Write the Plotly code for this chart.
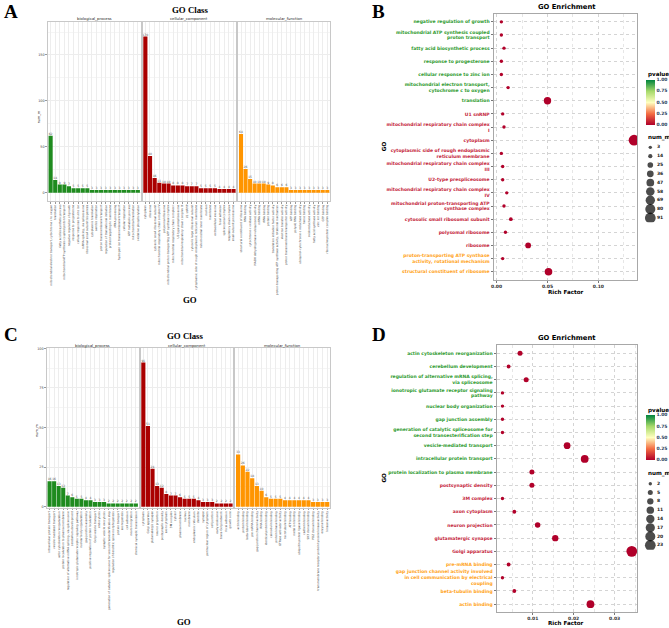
import plotly.graph_objects as go

W, H = 669, 628

# ---------------- Panel A (GO Class) ----------------
a_bp_terms = ["mitochondrial electron transport, cytochrome c to oxygen", "translation",
              "fatty acid biosynthetic process", "mitochondrial ATP synthesis coupled proton transport",
              "negative regulation of growth", "response to progesterone", "cellular response to zinc ion",
              "mRNA splicing, via spliceosome", "ribosomal small subunit biogenesis", "cytoplasmic translation",
              "aerobic respiration", "proton transmembrane transport", "regulation of translational initiation",
              "protein targeting to membrane", "rRNA processing", "hydrogen ion transmembrane transport",
              "cellular respiration", "ATP metabolic process", "mitochondrial translation",
              "oxidative phosphorylation"]
a_bp_counts = [62, 14, 9, 9, 7, 5, 5, 5, 5, 3, 3, 3, 3, 3, 3, 3, 3, 3, 3, 3]

a_cc_terms = ["cytoplasm", "ribosome", "cytosolic small ribosomal subunit",
              "mitochondrial respiratory chain complex IV", "polysomal ribosome",
              "mitochondrial proton-transporting ATP synthase complex",
              "mitochondrial respiratory chain complex I", "U2-type prespliceosome",
              "mitochondrial respiratory chain complex III", "U1 snRNP", "cytosolic large ribosomal subunit",
              "cytoplasmic side of rough endoplasmic reticulum membrane",
              "mitochondrial inner membrane", "nucleus", "membrane", "extracellular exosome", "focal adhesion",
              "spliceosomal complex", "respiratory chain complex", "small-subunit processome"]
a_cc_counts = [170, 40, 16, 11, 10, 10, 8, 8, 8, 7, 7, 7, 5, 5, 5, 5, 4, 4, 4, 4]

a_mf_terms = ["structural constituent of ribosome", "RNA binding", "cytochrome-c oxidase activity",
              "NADH dehydrogenase (ubiquinone) activity", "mRNA binding", "rRNA binding", "protein binding",
              "translation initiation factor activity",
              "proton-transporting ATP synthase activity, rotational mechanism", "electron transfer activity",
              "proton transmembrane transporter activity", "ATP binding", "poly(A) RNA binding",
              "ubiquinol-cytochrome-c reductase activity", "heme binding", "oxidoreductase activity",
              "fatty acid synthase activity", "zinc ion binding", "GTP binding", "ribonucleoprotein complex binding"]
a_mf_counts = [64, 26, 15, 10, 10, 10, 9, 8, 6, 6, 6, 3, 3, 3, 3, 3, 3, 3, 3, 3]

# ---------------- Panel C (GO Class) ----------------
c_bp_terms = ["intracellular protein transport", "vesicle-mediated transport", "actin cytoskeleton reorganization",
              "protein localization to plasma membrane", "regulation of alternative mRNA splicing, via spliceosome",
              "cerebellum development", "ionotropic glutamate receptor signaling pathway",
              "nuclear body organization", "gap junction assembly",
              "positive regulation of protein localization", "Golgi vesicle transport", "endocytosis",
              "synaptic vesicle exocytosis",
              "generation of catalytic spliceosome for second transesterification step",
              "regulation of dendritic spine morphogenesis", "protein transport",
              "axonogenesis", "cell adhesion", "neuron migration", "chemical synaptic transmission"]
c_bp_counts = [16, 16, 13, 12, 7, 6, 5, 5, 4, 4, 3, 3, 3, 2, 2, 2, 2, 2, 2, 2]

c_cc_terms = ["cytoplasm", "Golgi apparatus", "glutamatergic synapse", "neuron projection",
              "postsynaptic density", "axon cytoplasm", "3M complex", "cytosol", "plasma membrane", "nucleus",
              "membrane", "endoplasmic reticulum", "dendrite", "synapse", "perinuclear region of cytoplasm",
              "cell junction", "early endosome", "trans-Golgi network", "focal adhesion", "growth cone"]
c_cc_counts = [91, 51, 24, 13, 12, 8, 7, 7, 6, 5, 5, 5, 4, 3, 3, 3, 2, 2, 2, 2]

c_mf_terms = ["actin binding", "protein binding", "beta-tubulin binding", "pre-mRNA binding",
              "gap junction channel activity", "RNA binding", "identical protein binding", "calmodulin binding",
              "protein kinase binding", "GTPase activator activity", "microtubule binding", "ATP binding",
              "metal ion binding", "ubiquitin protein ligase binding", "cadherin binding", "SH3 domain binding",
              "PDZ domain binding", "transmembrane receptor protein tyrosine kinase activity",
              "enzyme binding", "kinase activity"]
c_mf_counts = [33, 26, 22, 18, 13, 10, 6, 5, 5, 5, 4, 4, 4, 4, 4, 4, 3, 3, 3, 3]

# ---------------- Panel B (GO Enrichment) ----------------
b_terms = ["negative regulation of growth", "mitochondrial ATP synthesis coupled\nproton transport",
           "fatty acid biosynthetic process", "response to progesterone", "cellular response to zinc ion",
           "mitochondrial electron transport,\ncytochrome c to oxygen", "translation", "U1 snRNP",
           "mitochondrial respiratory chain complex\nI", "cytoplasm",
           "cytoplasmic side of rough endoplasmic\nreticulum membrane",
           "mitochondrial respiratory chain complex\nIII", "U2-type prespliceosome",
           "mitochondrial respiratory chain complex\nIV", "mitochondrial proton-transporting ATP\nsynthase complex",
           "cytosolic small ribosomal subunit", "polysomal ribosome", "ribosome",
           "proton-transporting ATP synthase\nactivity, rotational mechanism", "structural constituent of ribosome"]
b_class = ["BP"] * 7 + ["CC"] * 11 + ["MF"] * 2
b_rich = [0.0047, 0.0047, 0.0073, 0.0047, 0.0047, 0.0113, 0.050, 0.006, 0.0073, 0.135,
          0.0047, 0.006, 0.006, 0.010, 0.0073, 0.014, 0.0087, 0.031, 0.006, 0.051]
b_num = [3, 3, 6, 3, 3, 9, 43, 4, 6, 91, 3, 4, 4, 7, 5, 11, 6, 26, 4, 45]
b_p = [0.004, 0.004, 0.002, 0.004, 0.004, 0.001, 0.0, 0.003, 0.002, 0.0, 0.004, 0.003, 0.003, 0.001, 0.002,
       0.0, 0.001, 0.0, 0.003, 0.0]
b_size_legend = [3, 14, 25, 36, 47, 58, 69, 80, 91]

# ---------------- Panel D (GO Enrichment) ----------------
d_terms = ["actin cytoskeleton reorganization", "cerebellum development",
           "regulation of alternative mRNA splicing,\nvia spliceosome",
           "ionotropic glutamate receptor signaling\npathway", "nuclear body organization", "gap junction assembly",
           "generation of catalytic spliceosome for\nsecond transesterification step", "vesicle-mediated transport",
           "intracellular protein transport", "protein localization to plasma membrane", "postsynaptic density",
           "3M complex", "axon cytoplasm", "neuron projection", "glutamatergic synapse", "Golgi apparatus",
           "pre-mRNA binding",
           "gap junction channel activity involved\nin cell communication by electrical\ncoupling",
           "beta-tubulin binding", "actin binding"]
d_class = ["BP"] * 10 + ["CC"] * 6 + ["MF"] * 4
d_rich = [0.0069, 0.0041, 0.0084, 0.0026, 0.0026, 0.0026, 0.0026, 0.0184, 0.0227, 0.0098,
          0.0098, 0.0026, 0.0055, 0.0112, 0.0155, 0.0342, 0.0041, 0.0026, 0.0055, 0.0241]
d_num = [5, 3, 5, 2, 2, 2, 2, 9, 12, 5, 5, 2, 3, 6, 8, 23, 3, 2, 3, 12]
d_p = [0.002, 0.003, 0.002, 0.004, 0.004, 0.004, 0.004, 0.0, 0.0, 0.002, 0.002, 0.004, 0.003, 0.001, 0.0,
       0.0, 0.003, 0.004, 0.003, 0.0]
d_size_legend = [2, 5, 8, 11, 14, 17, 20, 23]

pv_ticks = [0, 0.25, 0.5, 0.75, 1.0]
pv_ticktext = ["0.00", "0.25", "0.50", "0.75", "1.00"]

# ---------------- styles ----------------
BAR_COL = {"BP": "#1F8B1F", "CC": "#AA0000", "MF": "#FF9500"}
LAB_COL = {"BP": "#2E9A2E", "CC": "#C41E3A", "MF": "#FFA31A"}
PV_SCALE = [[0, "#B0002A"], [0.25, "#F46D43"], [0.5, "#FFFFBF"], [0.75, "#A6D96A"], [1, "#00843D"]]
SANS = "DejaVu Sans"
SERIF = "Liberation Serif"


def xd(a, b):
    return [a / W, b / W]


def yd(top, bot):
    return [1 - bot / H, 1 - top / H]


fig = go.Figure()
layout = dict(width=W, height=H, margin=dict(l=0, r=0, t=0, b=0), autosize=False,
              paper_bgcolor="white", plot_bgcolor="white", showlegend=False,
              bargap=0.1, annotations=[])
ann = layout["annotations"]


def add_text(text, px, py, size, family=SANS, bold=True, angle=0, xanchor="center", color="black"):
    ann.append(dict(text=text, x=px / W, y=1 - py / H, xref="paper", yref="paper",
                    showarrow=False, textangle=angle, xanchor=xanchor, yanchor="middle",
                    font=dict(family=family, size=size, color=color, weight="bold" if bold else "normal")))


# ---------------- GO Class facets ----------------
facets = [
    (1, a_bp_terms, a_bp_counts, "BP", (46, 139), (20, 200), [-9, 186], [0, 50, 100, 150], True),
    (2, a_cc_terms, a_cc_counts, "CC", (141, 235), (20, 200), [-9, 186], [0, 50, 100, 150], False),
    (3, a_mf_terms, a_mf_counts, "MF", (237, 329), (20, 200), [-9, 186], [0, 50, 100, 150], False),
    (5, c_bp_terms, c_bp_counts, "BP", (45, 137), (348, 508), [-0.6, 100], [0, 25, 50, 75, 100], True),
    (6, c_cc_terms, c_cc_counts, "CC", (139, 232), (348, 508), [-0.6, 100], [0, 25, 50, 75, 100], False),
    (7, c_mf_terms, c_mf_counts, "MF", (234, 329), (348, 508), [-0.6, 100], [0, 25, 50, 75, 100], False),
]
for idx, terms, counts, cls, xdom, ydom, yr, ytv, showy in facets:
    fig.add_trace(go.Bar(x=terms, y=counts, marker=dict(color=BAR_COL[cls], line=dict(width=0)),
                         text=[str(c) for c in counts], textposition="outside", cliponaxis=False,
                         constraintext="none", textfont=dict(size=3.0, color="#555555", family=SANS),
                         xaxis=f"x{idx}", yaxis=f"y{idx}"))
    step = ytv[1] - ytv[0]
    minor = [v + step / 2 for v in ytv if v + step / 2 <= yr[1]]
    layout[f"xaxis{idx}"] = dict(domain=xd(*xdom), anchor=f"y{idx}", type="category",
                                 range=[-0.6, len(terms) - 0.4], tickangle=-90,
                                 tickfont=dict(size=2.8, family=SANS, color="#333333"),
                                 showgrid=True, gridcolor="#EDEDED", gridwidth=0.6,
                                 showline=True, mirror=True, linecolor="#C8C8C8", linewidth=1,
                                 ticks="outside", ticklen=1.5, tickcolor="#999999", tickwidth=0.5,
                                 zeroline=False, fixedrange=True)
    layout[f"yaxis{idx}"] = dict(domain=yd(*ydom), anchor=f"x{idx}", range=yr,
                                 tickmode="array", tickvals=ytv, ticktext=[str(v) for v in ytv],
                                 showticklabels=showy, tickfont=dict(size=3.4, family=SANS, color="#444444"),
                                 ticks="outside" if showy else "", ticklen=1.5, tickcolor="#999999",
                                 tickwidth=0.5,
                                 showgrid=True, gridcolor="#EDEDED", gridwidth=0.6,
                                 minor=dict(tickvals=minor, showgrid=True, gridcolor="#F5F5F5", gridwidth=0.5),
                                 showline=True, mirror=True, linecolor="#C8C8C8", linewidth=1,
                                 zeroline=False, fixedrange=True)

# strips and titles for GO Class panels
for (cx, cy, name) in [(92.5, 17, "biological_process"), (188, 17, "cellular_component"),
                       (283, 17, "molecular_function"), (91, 345, "biological_process"),
                       (185.5, 345, "cellular_component"), (281.5, 345, "molecular_function")]:
    add_text(name, cx, cy, 3.8, bold=False, color="#222222")
add_text("GO Class", 189, 8.5, 8.8, family=SERIF)
add_text("GO Class", 184, 336, 8.8, family=SERIF)
add_text("GO", 189, 299, 8.8, family=SERIF)
add_text("GO", 183, 623, 8.8, family=SERIF)
add_text("num_m", 38, 115, 3.4, bold=False, angle=-90)
add_text("num_m", 35, 430, 3.4, bold=False, angle=-90)

# panel letters
add_text("A", 9, 10, 19, family=SERIF)
add_text("B", 378, 10, 19, family=SERIF)
add_text("C", 9, 334, 19, family=SERIF)
add_text("D", 378, 334, 19, family=SERIF)


# ---------------- GO Enrichment panels ----------------
def colored(term, cls):
    lines = term.split("\n")
    return "<br>".join(f"<span style='color:{LAB_COL[cls]}'>{ln}</span>" for ln in lines)


enrich = [
    (4, b_terms, b_class, b_rich, b_num, b_p, (493, 637), (12, 279), [-0.003, 0.138],
     [0, 0.05, 0.10], ["0.00", "0.05", "0.10"], [0.025, 0.075, 0.125], 91 / 7.6 ** 2, 100.5,
     9, b_size_legend, (141.6, 221.4)),
    (8, d_terms, d_class, d_rich, d_num, d_p, (496, 637), (345, 613), [0.00115, 0.0355],
     [0.01, 0.02, 0.03], ["0.01", "0.02", "0.03"], [0.005, 0.015, 0.025, 0.035], 23 / 7.6 ** 2, 437.5,
     10, d_size_legend, (479.6, 550.4)),
]
for (idx, terms, classes, rich, num, pv, xdom, ydom, xr, xtv, xtt, xminor, sref, cby,
     lidx, sizes_leg, ldom) in enrich:
    plain = [t.replace("\n", " ") for t in terms]
    fig.add_trace(go.Scatter(
        x=rich, y=plain, mode="markers", xaxis=f"x{idx}", yaxis=f"y{idx}",
        marker=dict(size=num, sizemode="area", sizeref=sref, sizemin=1.7, color=pv, opacity=1,
                    colorscale=PV_SCALE, cmin=0, cmax=1, line=dict(width=0), showscale=True,
                    colorbar=dict(x=646 / W, xanchor="left", xpad=0, y=1 - cby / H, yanchor="middle",
                                  ypad=0, len=45, lenmode="pixels", thickness=9, thicknessmode="pixels",
                                  outlinewidth=0, ticks="", tickmode="array", tickvals=pv_ticks,
                                  ticktext=pv_ticktext, ticklabelposition="outside right",
                                  tickfont=dict(size=4.5, family=SANS, weight="bold")))))
    layout[f"xaxis{idx}"] = dict(domain=xd(*xdom), anchor=f"y{idx}", range=xr, tickmode="array",
                                 tickvals=xtv, ticktext=xtt,
                                 tickfont=dict(size=4.5, family=SANS, weight="bold", color="#333333"),
                                 showgrid=True, gridcolor="#D4D4D4", griddash="dot", gridwidth=0.7,
                                 minor=dict(tickvals=xminor, showgrid=True, gridcolor="#E6E6E6",
                                            griddash="dot", gridwidth=0.5),
                                 showline=True, mirror=True, linecolor="#A8A8A8", linewidth=1,
                                 ticks="outside", ticklen=2, tickcolor="#777777", tickwidth=0.6,
                                 zeroline=False, fixedrange=True)
    layout[f"yaxis{idx}"] = dict(domain=yd(*ydom), anchor=f"x{idx}", type="category",
                                 categoryorder="array", categoryarray=plain,
                                 range=[len(plain) - 0.4, -0.6], tickmode="array", tickvals=plain,
                                 ticktext=[colored(t, c) for t, c in zip(terms, classes)],
                                 tickfont=dict(size=4.5, family=SANS, weight="bold"),
                                 showgrid=True, gridcolor="#D4D4D4", griddash="dot", gridwidth=0.7,
                                 showline=True, mirror=True, linecolor="#A8A8A8", linewidth=1,
                                 ticks="outside", ticklen=2, tickcolor="#777777", tickwidth=0.6,
                                 zeroline=False, fixedrange=True)
    # size legend (keys on hidden axis)
    labs = [str(v) for v in sizes_leg]
    fig.add_trace(go.Scatter(x=[0.75] * len(labs), y=labs, mode="markers", xaxis=f"x{lidx}",
                             yaxis=f"y{lidx}",
                             marker=dict(size=sizes_leg, sizemode="area", sizeref=sref, sizemin=1.7,
                                         color="black", line=dict(width=0))))
    fig.add_trace(go.Scatter(x=[1.55] * len(labs), y=labs, mode="text", text=labs,
                             textposition="middle right", xaxis=f"x{lidx}", yaxis=f"y{lidx}",
                             textfont=dict(size=4.5, family=SANS, weight="bold", color="#222222")))
    layout[f"xaxis{lidx}"] = dict(domain=xd(644, 669), anchor=f"y{lidx}", range=[0, 3], visible=False,
                                  fixedrange=True)
    layout[f"yaxis{lidx}"] = dict(domain=yd(*ldom), anchor=f"x{lidx}", type="category",
                                  categoryorder="array", categoryarray=labs,
                                  range=[len(labs) - 0.5, -0.5], visible=False, fixedrange=True)

add_text("GO Enrichment", 567, 5.5, 6.8)
add_text("GO Enrichment", 567, 338, 6.8)
add_text("Rich Factor", 566, 291, 5.6)
add_text("Rich Factor", 566, 623.5, 5.6)
add_text("GO", 383, 145, 5.6, angle=-90)
add_text("GO", 383, 478, 5.6, angle=-90)
add_text("pvalue", 646, 73, 5.6, xanchor="left")
add_text("pvalue", 646, 410, 5.6, xanchor="left")
add_text("num_m", 646, 136, 5.6, xanchor="left")
add_text("num_m", 646, 474, 5.6, xanchor="left")

fig.update_layout(**layout)
fig.write_html("out.html", config={"displayModeBar": False},
               post_script="document.body.style.margin='0';document.body.style.overflow='hidden';")
